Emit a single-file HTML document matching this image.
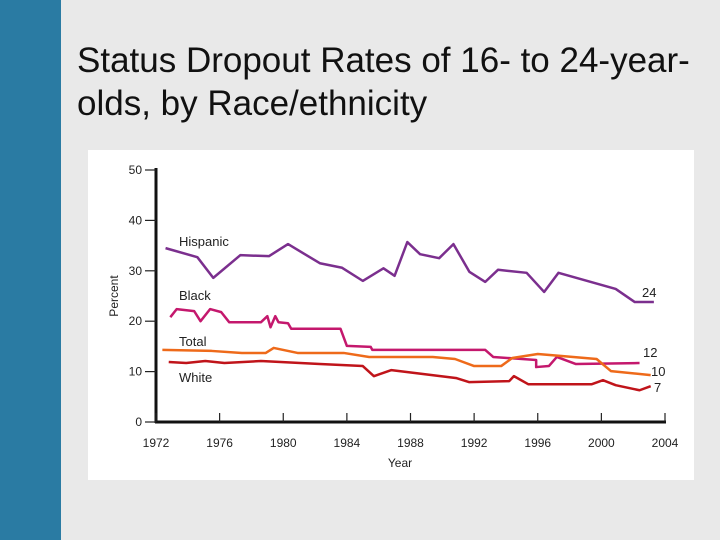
<!DOCTYPE html>
<html><head><meta charset="utf-8"><style>
body{margin:0;width:720px;height:540px;background:#e9e9e9;position:relative;overflow:hidden;font-family:"Liberation Sans",sans-serif}
#bar{position:absolute;left:0;top:0;width:61px;height:540px;background:#2a7ba3}
#title{position:absolute;left:77px;top:39px;font-size:35px;line-height:43px;color:#111}
#box{position:absolute;left:88px;top:150px;width:606px;height:330px;background:#fff}
svg{position:absolute;left:0;top:0}
</style></head><body>
<div id="bar"></div>
<div id="title">Status Dropout Rates of 16- to 24-year-<br>olds, by Race/ethnicity</div>
<div id="box"></div>
<svg id="chart" width="720" height="540"></svg>
<script>
const xTicks=[1972,1976,1980,1984,1988,1992,1996,2000,2004];
const yTicks=[0,10,20,30,40,50];
const hispYears=[1972.6,1974.6,1975.6,1977.3,1979.1,1980.3,1982.3,1983.7,1985,1986.3,1987,1987.8,1988.6,1989.8,1990.7,1991.7,1992.7,1993.5,1995.3,1996.4,1997.3,2000.9,2002.1,2003.3];
const hispVals=[34.5,32.7,28.6,33.1,32.9,35.3,31.5,30.6,28,30.5,29,35.7,33.3,32.5,35.3,29.8,27.8,30.2,29.6,25.8,29.6,26.4,23.8,23.8];
const blackYears=[1972.9,1973.3,1974.4,1974.8,1975.4,1976.1,1976.6,1978.6,1979,1979.2,1979.5,1979.7,1980.3,1980.5,1983.6,1984,1985.5,1985.6,1992.7,1993.2,1995.9,1995.9,1996.7,1997.2,1998.4,2002.4];
const blackVals=[20.8,22.4,22,20,22.4,21.8,19.8,19.8,21,18.8,21,19.8,19.6,18.5,18.5,15.1,14.9,14.3,14.3,12.9,12.3,10.9,11.1,12.9,11.5,11.7];
const totalYears=[1972.4,1975.5,1977.4,1978.9,1979.4,1980.9,1983.8,1985.4,1989.4,1990.8,1992,1993.7,1994.4,1996,1997.5,1999.7,2000.6,2003.1];
const totalVals=[14.3,14.1,13.7,13.7,14.7,13.7,13.7,12.9,12.9,12.5,11.1,11.1,12.7,13.5,13.1,12.5,10.1,9.3];
const whiteYears=[1972.8,1973.9,1975.1,1976.3,1978.6,1982.3,1985,1985.7,1986.8,1990.9,1991.7,1994.2,1994.5,1995.4,1999.4,2000.1,2000.9,2002.4,2003.1];
const whiteVals=[11.9,11.7,12.1,11.7,12.1,11.5,11.1,9.1,10.3,8.7,7.9,8.1,9.1,7.5,7.5,8.3,7.3,6.3,7.1];
const series=[
 {name:"hispanic",yrs:hispYears,vals:hispVals,color:"#7b2f8e",label:"Hispanic",lx:179,ly:246,end:"24",ex:642,ey:297},
 {name:"black",yrs:blackYears,vals:blackVals,color:"#c4186d",label:"Black",lx:179,ly:300,end:"12",ex:643,ey:357},
 {name:"total",yrs:totalYears,vals:totalVals,color:"#ee6a1a",label:"Total",lx:179,ly:346,end:"10",ex:651,ey:376},
 {name:"white",yrs:whiteYears,vals:whiteVals,color:"#c0141a",label:"White",lx:179,ly:382,end:"7",ex:654,ey:392}
];
const X=y=>156+(y-1972)*(665-156)/32;
const Y=v=>422-v*(422-170)/50;
const svg=document.getElementById('chart');const NS="http://www.w3.org/2000/svg";
function mk(t,a){const e=document.createElementNS(NS,t);for(const k in a)e.setAttribute(k,a[k]);svg.appendChild(e);return e;}
let e=mk('line',{x1:156,y1:168,x2:156,y2:423,stroke:'#111','stroke-width':3});

e=mk('line',{x1:155,y1:422,x2:666,y2:422,stroke:'#111','stroke-width':3});

yTicks.forEach(v=>{
 let t=mk('line',{x1:145,x2:156,y1:Y(v),y2:Y(v),stroke:'#222','stroke-width':1.2});
 
 let l=mk('text',{x:142,y:Y(v)+4,'text-anchor':'end','font-size':12,fill:'#222'});l.textContent=v;
 
});
xTicks.forEach(v=>{
 let t=mk('line',{x1:X(v),x2:X(v),y1:413,y2:422,stroke:'#222','stroke-width':1.2});
 
 let l=mk('text',{x:X(v),y:447,'text-anchor':'middle','font-size':12,fill:'#222'});l.textContent=v;
 
});
e=mk('text',{x:400,y:467,'text-anchor':'middle','font-size':12,fill:'#222'});e.textContent='Year';

e=mk('text',{x:118,y:296,'text-anchor':'middle','font-size':12,fill:'#222',transform:'rotate(-90 118 296)'});e.textContent='Percent';

series.forEach(s=>{
 let p=mk('polyline',{points:s.yrs.map((y,i)=>X(y)+','+Y(s.vals[i])).join(' '),fill:'none',stroke:s.color,'stroke-width':2.5,'stroke-linejoin':'round'});
 
 let l=mk('text',{x:s.lx,y:s.ly,'font-size':13,fill:'#222'});l.textContent=s.label;
 
 let n=mk('text',{x:s.ex,y:s.ey,'font-size':13,fill:'#222'});n.textContent=s.end;
 
});
</script>
</body></html>
